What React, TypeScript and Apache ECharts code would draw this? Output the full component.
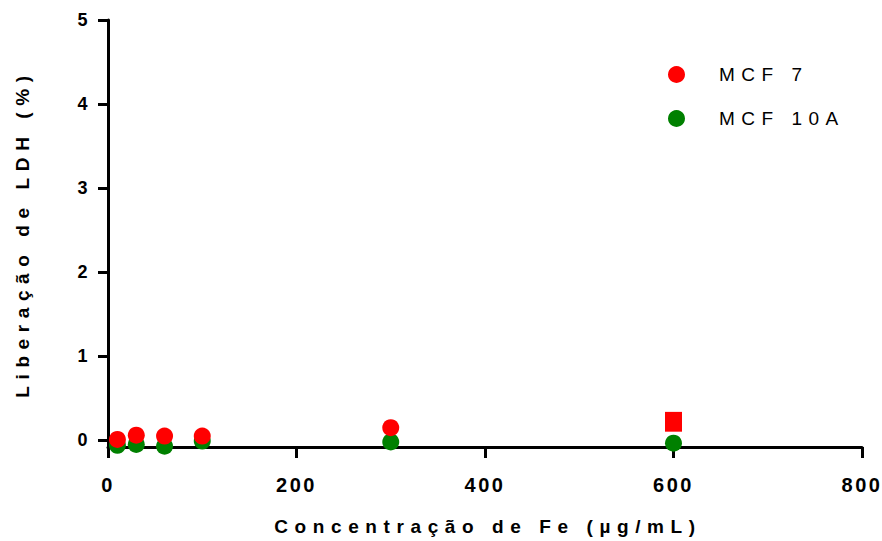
import React, { useEffect, useRef } from "react";
import * as echarts from "echarts";

const concentrations = [10, 30, 60, 100, 300, 600];
const mcf7 = [0.01, 0.06, 0.05, 0.05, 0.15, 0.22];
const mcf7Low = [0.01, 0.06, 0.05, 0.05, 0.15, 0.12];
const mcf7High = [0.01, 0.06, 0.05, 0.05, 0.15, 0.32];
const mcf10a = [-0.06, -0.05, -0.07, -0.01, -0.02, -0.035];
const yTicks = [0, 1, 2, 3, 4, 5];
const seriesNames = ["MCF 7", "MCF 10A"];
const xTitle = "Concentração de Fe (µg/mL)";
const yTitle = "Liberação de LDH (%)";

export default function App() {
  const ref = useRef<HTMLDivElement>(null);
  useEffect(() => {
    if (!ref.current) return;
    const chart = echarts.init(ref.current, null, { renderer: "svg" });
    const font = "'Liberation Sans', Arial, sans-serif";
    const errData = concentrations
      .map((x, i) => [x, mcf7Low[i], mcf7High[i]])
      .filter((d) => d[2] - d[1] > 0);
    chart.setOption({
      animation: false,
      backgroundColor: "#fff",
      grid: { left: 108, right: 20, top: 20, bottom: 88, containLabel: false },
      legend: {
        orient: "vertical",
        left: 663,
        top: 60,
        itemWidth: 17,
        itemHeight: 17,
        itemGap: 25,
        icon: "circle",
        data: seriesNames,
        textStyle: {
          fontFamily: font,
          fontSize: 19,
          color: "#000",
          padding: [0, 0, 0, 29],
        },
      },
      xAxis: {
        type: "value",
        min: 0,
        max: 800,
        interval: 200,
        name: xTitle,
        nameLocation: "middle",
        nameGap: 70,
        nameTextStyle: { fontFamily: font, fontSize: 19, fontWeight: "bold", color: "#000", padding: [0, 0, 0, 6] },
        axisLine: { show: true, onZero: false, lineStyle: { color: "#000", width: 3 } },
        axisTick: { show: true, length: 11, lineStyle: { color: "#000", width: 3 } },
        axisLabel: { fontFamily: font, fontSize: 20, fontWeight: "bold", color: "#000", margin: 28 },
        splitLine: { show: false },
      },
      yAxis: {
        type: "value",
        min: -0.08,
        max: 5,
        name: yTitle,
        nameLocation: "middle",
        nameGap: 76,
        nameTextStyle: { fontFamily: font, fontSize: 19, fontWeight: "bold", color: "#000" },
        axisLine: { show: true, onZero: false, lineStyle: { color: "#000", width: 3 } },
        axisTick: { show: true, length: 10, customValues: yTicks, lineStyle: { color: "#000", width: 3 } },
        axisLabel: { fontFamily: font, fontSize: 18, fontWeight: "bold", color: "#000", margin: 18, customValues: yTicks },
        splitLine: { show: false },
      },
      series: [
        {
          name: "MCF 7 err",
          type: "custom",
          clip: false,
          z: 3,
          data: errData,
          renderItem: (params: any, api: any) => {
            const top = api.coord([api.value(0), api.value(2)]);
            const bot = api.coord([api.value(0), api.value(1)]);
            const w = 17;
            return {
              type: "rect",
              shape: { x: top[0] - w / 2, y: top[1] - 1.5, width: w, height: bot[1] - top[1] + 3 },
              style: { fill: "#ff0000" },
            };
          },
        },
        {
          name: seriesNames[1],
          type: "scatter",
          symbol: "circle",
          symbolSize: 17,
          clip: false,
          itemStyle: { color: "#008000", opacity: 1 },
          data: concentrations.map((x, i) => [x, mcf10a[i]]),
          z: 2,
        },
        {
          name: seriesNames[0],
          type: "scatter",
          symbol: "circle",
          symbolSize: 17,
          clip: false,
          itemStyle: { color: "#ff0000", opacity: 1 },
          data: concentrations.map((x, i) => [x, mcf7[i]]),
          z: 4,
        },
      ],
    });
    const texts = ref.current.querySelectorAll("text");
    texts.forEach((t) => {
      const s = t.textContent || "";
      if (s === xTitle || s === yTitle) {
        t.setAttribute("letter-spacing", "6.6");
      } else if (seriesNames.includes(s)) {
        t.setAttribute("letter-spacing", "6.5");
      } else if (/^\d+$/.test(s)) {
        t.setAttribute("letter-spacing", "2.5");
      }
    });
    return () => chart.dispose();
  }, []);
  return <div ref={ref} style={{ width: 882, height: 541, position: "absolute", left: 0, top: 0 }} />;
}
